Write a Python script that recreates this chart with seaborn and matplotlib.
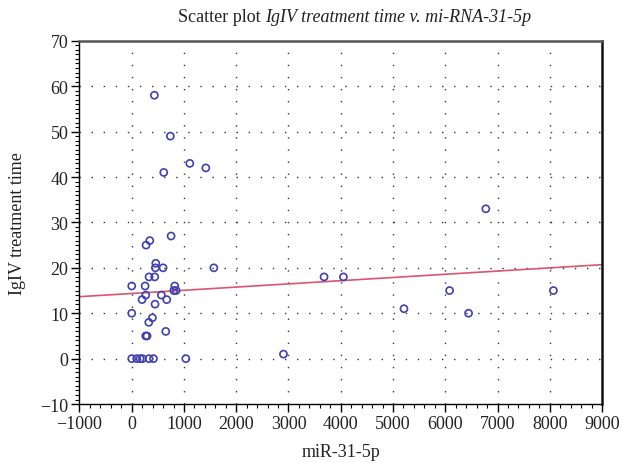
import matplotlib
matplotlib.use("Agg")
import matplotlib.pyplot as plt
import seaborn as sns
import numpy as np
import pandas as pd
from matplotlib.ticker import MultipleLocator

# Data
mir_31_5p = [0, 95, 160, 205, 330, 415, 1035,
             433, 739, 1111, 1418, 613,
             753, 345, 274, 460, 452, 600, 1571, 331, 440,
             0, 255, 823, 805, 849, 268, 567, 197, 670, 446,
             0, 395, 326, 651, 268, 293,
             2904, 3681, 4051, 5210, 6083, 6446, 6777, 8070]
igiv_time = [0, 0, 0, 0, 0, 0, 0,
             58, 49, 43, 42, 41,
             27, 26, 25, 21, 20, 20, 20, 18, 18,
             16, 16, 16, 15, 15, 14, 14, 13, 13, 12,
             10, 9, 8, 6, 5, 5,
             1, 18, 18, 11, 15, 10, 33, 15]

# Fitted line as shown in the reference
fit_intercept = 14.35
fit_slope = 0.000705

x_ticks = [-1000, 0, 1000, 2000, 3000, 4000, 5000, 6000, 7000, 8000, 9000]
y_ticks = [-10, 0, 10, 20, 30, 40, 50, 60, 70]

df = pd.DataFrame({"miR-31-5p": mir_31_5p, "IgIV treatment time": igiv_time})

sns.set_theme(style="white")
plt.rcParams["font.family"] = ["Liberation Serif", "DejaVu Serif"]

fig = plt.figure(figsize=(6.23, 4.64), dpi=100)
ax = fig.add_axes([0.1276, 0.127, 0.8387, 0.783])

ax.set_xlim(x_ticks[0], x_ticks[-1])
ax.set_ylim(y_ticks[0], y_ticks[-1])

grid_kw = dict(color="#333333", linewidth=1.0, linestyle=(0, (1, 7.7)), zorder=0)
for xv in x_ticks[1:-1]:
    ax.axvline(xv, **grid_kw)
for yv in y_ticks[1:-1]:
    ax.axhline(yv, **grid_kw)

xs = np.array(ax.get_xlim())
line_df = pd.DataFrame({"x": xs, "y": fit_intercept + fit_slope * xs})
sns.lineplot(data=line_df, x="x", y="y", ax=ax, color="#d9566f",
             linewidth=1.2, zorder=2)

sns.scatterplot(data=df, x="miR-31-5p", y="IgIV treatment time", ax=ax,
                marker="o", s=26, facecolor="none", edgecolor="#4040b0",
                linewidth=1.2, zorder=3)

ax.set_xlim(x_ticks[0], x_ticks[-1])
ax.set_ylim(y_ticks[0], y_ticks[-1])
ax.set_xticks(x_ticks)
ax.set_yticks(y_ticks)
ax.xaxis.set_minor_locator(MultipleLocator(200))
ax.yaxis.set_minor_locator(MultipleLocator(1))

ax.tick_params(axis="both", which="major", direction="out", length=6, width=1,
               color="black", labelsize=13, labelcolor="#222222", pad=2,
               bottom=True, left=True, top=False, right=False)
ax.tick_params(axis="both", which="minor", direction="out", length=3, width=0.8,
               color="black", bottom=True, left=True, top=False, right=False)

for side in ["left", "bottom"]:
    ax.spines[side].set_color("black")
    ax.spines[side].set_linewidth(1.0)
ax.spines["top"].set_color("#555555")
ax.spines["top"].set_linewidth(1.8)
ax.spines["right"].set_color("#111111")
ax.spines["right"].set_linewidth(1.8)

ax.set_xlabel("miR-31-5p", fontsize=13, color="#222222", labelpad=8)
ax.set_ylabel("IgIV treatment time", fontsize=13, color="#222222", labelpad=10)

# Title: regular part + italic part, centred as a whole
t1 = fig.text(0, 0, "Scatter plot ", fontsize=13, color="#222222")
t2 = ax.annotate("IgIV treatment time v. mi-RNA-31-5p", xy=(1, 0), xycoords=t1,
                 va="bottom", ha="left", fontsize=13, style="italic", color="#222222")
fig.canvas.draw()
r = fig.canvas.get_renderer()
w1 = t1.get_window_extent(r).width
w2 = t2.get_window_extent(r).width
total = w1 + w2
cx = 355.0
left_px = cx - total / 2.0
t1.set_position((left_px / 623.0, 1 - 22.0 / 464.0))

fig.savefig("out.png", dpi=100)
